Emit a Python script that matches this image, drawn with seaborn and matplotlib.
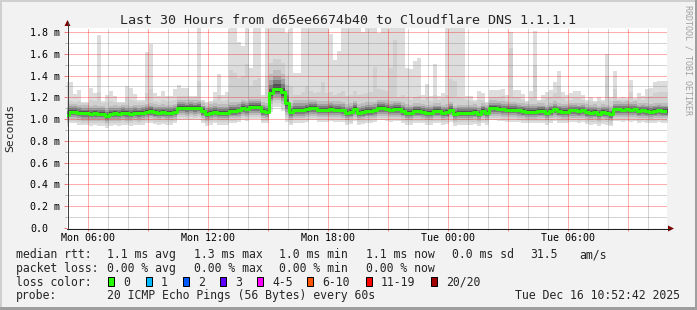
import numpy as np
import pandas as pd
import matplotlib
matplotlib.use("Agg")
import matplotlib.pyplot as plt
from matplotlib.patches import Rectangle, Polygon
from matplotlib.lines import Line2D
import seaborn as sns

# ---------------- data ----------------
TITLE = "Last 30 Hours from d65ee6674b40 to Cloudflare DNS 1.1.1.1"
first_bin_hour = 4 + 51 / 60      # Mon 04:51, first 12-minute consolidation bin
bin_hours = 0.2                   # 12 minutes
view_start_hour = 4 + 57 / 60     # Mon 04:57
view_end_hour = 34 + 57 / 60      # Tue 10:57
y_top_ms = 1.837

# median rtt per 12-minute bin (ms)
median_ms = [
    1.04, 1.07, 1.07, 1.06, 1.055, 1.055, 1.05, 1.055, 1.05, 1.05,
    1.03, 1.05, 1.055, 1.05, 1.06, 1.055, 1.05, 1.06, 1.055, 1.06,
    1.07, 1.075, 1.065, 1.06, 1.065, 1.06, 1.06, 1.07, 1.105, 1.105,
    1.10, 1.105, 1.10, 1.105, 1.075, 1.05, 1.06, 1.07, 1.06, 1.06,
    1.06, 1.075, 1.075, 1.08, 1.10, 1.09, 1.11, 1.11, 1.11, 1.075,
    1.07, 1.24, 1.28, 1.28, 1.245, 1.145, 1.065, 1.085, 1.085, 1.085,
    1.09, 1.10, 1.10, 1.085, 1.085, 1.085, 1.09, 1.085, 1.085, 1.08,
    1.06, 1.065, 1.09, 1.06, 1.065, 1.075, 1.075, 1.08, 1.10, 1.10,
    1.095, 1.085, 1.09, 1.09, 1.075, 1.06, 1.06, 1.075, 1.075, 1.07,
    1.06, 1.06, 1.075, 1.075, 1.06, 1.065, 1.085, 1.05, 1.06, 1.06,
    1.06, 1.06, 1.065, 1.05, 1.075, 1.06, 1.10, 1.10, 1.095, 1.09,
    1.085, 1.085, 1.085, 1.08, 1.075, 1.07, 1.07, 1.07, 1.075, 1.075,
    1.06, 1.075, 1.09, 1.075, 1.07, 1.07, 1.08, 1.08, 1.075, 1.08,
    1.065, 1.06, 1.065, 1.05, 1.065, 1.06, 1.047, 1.09, 1.09, 1.085,
    1.09, 1.085, 1.09, 1.075, 1.08, 1.075, 1.07, 1.075, 1.08, 1.075, 1.075,
]

# slowest ping per bin (ms) - top of the light smoke
max_ms = [
    1.34, 1.34, 1.23, 1.27, 1.16, 1.16, 1.29, 1.24, 1.77, 1.17,
    1.22, 1.26, 1.21, 1.16, 1.16, 1.30, 1.29, 1.23, 1.18, 1.18,
    1.62, 1.69, 1.24, 1.21, 1.26, 1.21, 1.21, 1.28, 1.31, 1.29,
    1.29, 1.21, 1.21, 1.85, 1.16, 1.16, 1.16, 1.25, 1.41, 1.22,
    1.25, 1.85, 1.85, 1.71, 1.67, 1.85, 1.47, 1.85, 1.85, 1.22,
    1.85, 1.85, 1.85, 1.85, 1.85, 1.79, 1.85, 1.42, 1.42, 1.85,
    1.85, 1.85, 1.85, 1.85, 1.85, 1.85, 1.78, 1.54, 1.63, 1.85,
    1.85, 1.85, 1.85, 1.85, 1.80, 1.85, 1.85, 1.85, 1.79, 1.85,
    1.85, 1.85, 1.85, 1.85, 1.85, 1.47, 1.46, 1.53, 1.56, 1.22,
    1.32, 1.21, 1.51, 1.21, 1.24, 1.85, 1.85, 1.85, 1.85, 1.85,
    1.21, 1.21, 1.18, 1.26, 1.24, 1.14, 1.27, 1.27, 1.27, 1.28,
    1.22, 1.80, 1.27, 1.27, 1.23, 1.16, 1.26, 1.81, 1.18, 1.22,
    1.25, 1.27, 1.34, 1.44, 1.25, 1.22, 1.24, 1.26, 1.26, 1.22,
    1.18, 1.20, 1.17, 1.20, 1.18, 1.60, 1.20, 1.44, 1.19, 1.20,
    1.17, 1.36, 1.18, 1.24, 1.21, 1.28, 1.29, 1.34, 1.35, 1.35, 1.35,
]

# second-slowest pings per bin (ms) - top of the medium smoke
upper_ms = [
    1.17, 1.17, 1.16, 1.17, 1.15, 1.15, 1.18, 1.17, 1.25, 1.15,
    1.16, 1.17, 1.16, 1.15, 1.15, 1.19, 1.18, 1.17, 1.16, 1.16,
    1.24, 1.28, 1.17, 1.16, 1.18, 1.17, 1.17, 1.18, 1.21, 1.21,
    1.21, 1.18, 1.18, 1.35, 1.16, 1.15, 1.15, 1.18, 1.22, 1.17,
    1.18, 1.45, 1.42, 1.38, 1.40, 1.51, 1.30, 1.36, 1.38, 1.19,
    1.40, 1.52, 1.55, 1.55, 1.52, 1.40, 1.30, 1.22, 1.22, 1.25,
    1.30, 1.26, 1.24, 1.25, 1.34, 1.24, 1.25, 1.22, 1.24, 1.26,
    1.21, 1.22, 1.26, 1.22, 1.23, 1.24, 1.25, 1.48, 1.28, 1.27,
    1.26, 1.47, 1.73, 1.20, 1.22, 1.19, 1.18, 1.20, 1.21, 1.18,
    1.20, 1.17, 1.22, 1.18, 1.19, 1.22, 1.37, 1.35, 1.20, 1.19,
    1.18, 1.17, 1.15, 1.18, 1.18, 1.14, 1.20, 1.20, 1.20, 1.21,
    1.18, 1.65, 1.20, 1.20, 1.18, 1.15, 1.19, 1.50, 1.16, 1.18,
    1.19, 1.20, 1.24, 1.30, 1.19, 1.17, 1.18, 1.19, 1.19, 1.18,
    1.16, 1.17, 1.16, 1.17, 1.16, 1.40, 1.17, 1.28, 1.17, 1.17,
    1.16, 1.25, 1.17, 1.19, 1.18, 1.20, 1.21, 1.24, 1.25, 1.25, 1.25,
]

# hourly spread of the dense smoke around the median (ms), hours 4..35
spread_first_hour = 4
spread_up_ms = [0.10, 0.10, 0.10, 0.10, 0.10, 0.10, 0.10, 0.10, 0.11, 0.11, 0.11, 0.24,
                0.12, 0.11, 0.11, 0.11, 0.11, 0.11, 0.10, 0.10, 0.10, 0.10, 0.10, 0.10,
                0.10, 0.10, 0.10, 0.10, 0.10, 0.10, 0.10, 0.10]
spread_dn_ms = [0.11, 0.11, 0.11, 0.11, 0.11, 0.11, 0.11, 0.11, 0.11, 0.11, 0.11, 0.17,
                0.12, 0.11, 0.11, 0.11, 0.11, 0.11, 0.11, 0.11, 0.11, 0.11, 0.11, 0.11,
                0.11, 0.11, 0.11, 0.11, 0.11, 0.11, 0.11, 0.11]

ytick_values = [0.0, 0.2, 0.4, 0.6, 0.8, 1.0, 1.2, 1.4, 1.6, 1.8]
ytick_labels = ["0.0", "0.2 m", "0.4 m", "0.6 m", "0.8 m", "1.0 m", "1.2 m", "1.4 m", "1.6 m", "1.8 m"]
xtick_hours = [6, 12, 18, 24, 30]
xtick_labels = ["Mon 06:00", "Mon 12:00", "Mon 18:00", "Tue 00:00", "Tue 06:00"]

loss_labels = ["0", "1", "2", "3", "4-5", "6-10", "11-19", "20/20"]
loss_colors = ["#26ff00", "#00b8ff", "#0059ff", "#5e00ff", "#ff00ff", "#ff5500", "#ff0000", "#a10000"]

rtt_row = ["median rtt:", "1.1 ms avg", "1.3 ms max", "1.0 ms min", "1.1 ms now", "0.0 ms sd", "31.5", "am/s"]
loss_row = ["packet loss:", "0.00 % avg", "0.00 % max", "0.00 % min", "0.00 % now"]
probe_row = ["probe:", "20 ICMP Echo Pings (56 Bytes) every 60s"]
stamp = "Tue Dec 16 10:52:42 2025"

# ---------------- drawing ----------------
sns.set_theme(style="white")
MONO = ["DejaVu Sans Mono"]
plt.rcParams["font.family"] = MONO
plt.rcParams["lines.scale_dashes"] = False

W, H = 697, 310
def fx(px):
    return px / W
def fy(py):
    return 1 - py / H

fig = plt.figure(figsize=(W / 100, H / 100), dpi=100, facecolor="#f2f2f2")
# 3D frame
fig.add_artist(Rectangle((0, fy(2)), 1, 2 / H, transform=fig.transFigure, color="#cfcfcf", lw=0))
fig.add_artist(Rectangle((0, 0), 2 / W, 1, transform=fig.transFigure, color="#cfcfcf", lw=0))
fig.add_artist(Rectangle((fx(695), 0), 2 / W, 1, transform=fig.transFigure, color="#9e9e9e", lw=0))
fig.add_artist(Rectangle((0, 0), 1, 3 / H, transform=fig.transFigure, color="#9e9e9e", lw=0))

ax = fig.add_axes([fx(67), fy(228), 600 / W, 200 / H])
ax.set_facecolor("white")

n = min(len(median_ms), len(max_ms), len(upper_ms))
med = np.array(median_ms[:n])
top = np.array(max_ms[:n])
upp = np.array(upper_ms[:n])
t_edges = first_bin_hour + bin_hours * np.arange(n + 1)
hidx = np.clip(np.floor(t_edges[:-1]).astype(int) - spread_first_hour, 0, len(spread_up_ms) - 1)
su = np.array(spread_up_ms)[hidx]
sd = np.array(spread_dn_ms)[hidx]

def ext(a):
    return np.append(a, a[-1])

# smoke layers, outer (light) to inner (dark)
ax.fill_between(t_edges, ext(med - sd), ext(np.maximum(top, med + su)), step="post",
                color="#dddddd", lw=0, zorder=1)
ax.fill_between(t_edges, ext(med - 0.8 * sd), ext(np.maximum(upp, med + 0.9 * su)), step="post",
                color="#d0d0d0", lw=0, zorder=1)
inner = [(0.62, 0.72, "#bcbcbc"), (0.45, 0.50, "#a0a0a0"), (0.30, 0.32, "#7c7c7c"), (0.17, 0.16, "#525252")]
for fdn, fup, col in inner:
    ax.fill_between(t_edges, ext(med - fdn * sd), ext(med + fup * su), step="post",
                    color=col, lw=0, zorder=1)

df = pd.DataFrame({"t": t_edges, "rtt": ext(med)})
sns.lineplot(data=df, x="t", y="rtt", ax=ax, color="#26ff00", lw=2.2, drawstyle="steps-post",
             estimator=None, sort=False, legend=False, zorder=3)
ax.set_xlabel("")
ax.set_ylabel("")

ax.set_xlim(view_start_hour, view_end_hour)
ax.set_ylim(0, y_top_ms)
major_x = np.arange(6, 35, 3)
minor_x = np.arange(5, 35, 1)
major_y = np.array(ytick_values)
minor_y = np.arange(0.1, 1.85, 0.2)
ax.set_xticks(major_x)
ax.set_xticks(minor_x, minor=True)
ax.set_yticks(major_y)
ax.set_yticks(minor_y, minor=True)
for s in ax.spines.values():
    s.set_visible(False)
red = (1.0, 0.0, 0.0, 0.32)
gray = (0.45, 0.45, 0.45, 0.3)
dot = (0, (0.72, 0.72))

# dotted grid drawn over the smoke, under the median line
for xv in minor_x:
    if xv % 3 != 0:
        ax.axvline(xv, color=gray, lw=0.72, linestyle=dot, antialiased=False, zorder=2)
for yv in minor_y:
    ax.axhline(yv, color=gray, lw=0.72, linestyle=dot, antialiased=False, zorder=2)
for xv in major_x:
    ax.axvline(xv, color=red, lw=0.72, linestyle=dot, antialiased=False, zorder=2)
for yv in major_y[1:]:
    ax.axhline(yv, color=red, lw=0.72, linestyle=dot, antialiased=False, zorder=2)

ax.tick_params(which="major", length=2.2, width=0.72, color=(1, 0, 0, 0.5), direction="out",
               labelbottom=False, labelleft=False, bottom=True, left=True)
ax.tick_params(which="minor", length=1.5, width=0.72, color=(0.45, 0.45, 0.45, 0.5), direction="out",
               bottom=True, left=True)

for v, lab in zip(ytick_values, ytick_labels):
    ax.text(-37 / 600, v, lab, transform=ax.get_yaxis_transform(), ha="left",
            va="center_baseline", fontsize=7.2, family=MONO, color="black")
for h, lab in zip(xtick_hours, xtick_labels):
    ax.text(h, -13 / 200, lab, transform=ax.get_xaxis_transform(), ha="center",
            va="baseline", fontsize=7.2, family=MONO, color="black")

# axes with arrows
fig.add_artist(Line2D([fx(67.5), fx(67.5)], [fy(228), fy(22)], color="#404040", lw=0.72))
fig.add_artist(Line2D([fx(67), fx(670)], [fy(228.5), fy(228.5)], color="#202020", lw=0.72))
fig.add_artist(Polygon([(fx(64.5), fy(26)), (fx(70.5), fy(26)), (fx(67.5), fy(20))],
                       closed=True, transform=fig.transFigure, color="#7f0000", lw=0))
fig.add_artist(Polygon([(fx(668), fy(225.5)), (fx(668), fy(231.5)), (fx(674), fy(228.5))],
                       closed=True, transform=fig.transFigure, color="#7f0000", lw=0))

# texts
fig.text(fx(348.5), fy(24), TITLE, ha="center", va="baseline", fontsize=9.6, family=MONO)
fig.text(fx(10), fy(128), "Seconds", rotation=90, ha="center", va="center", fontsize=8.2, family=MONO)
fig.text(fx(688), fy(5), "RRDTOOL / TOBI OETIKER", rotation=270, ha="center", va="top",
         fontsize=6.0, family=MONO, color="#a0a0a0")

FS = 8.3
rtt_x = [16, 107, 194, 279, 366, 452, 530, 579]
for s, x in zip(rtt_row, rtt_x):
    fig.text(fx(x), fy(258.3), s, ha="left", va="baseline", fontsize=FS, family=MONO)
loss_x = [16, 107, 194, 279, 366]
for s, x in zip(loss_row, loss_x):
    fig.text(fx(x), fy(271.7), s, ha="left", va="baseline", fontsize=FS, family=MONO)
fig.text(fx(16), fy(285.7), "loss color:", ha="left", va="baseline", fontsize=FS, family=MONO)
box_x = [108, 146, 183, 220, 257, 307, 366, 431]
for lab, col, bx in zip(loss_labels, loss_colors, box_x):
    fig.add_artist(Rectangle((fx(bx), fy(286)), 6 / W, 9 / H, transform=fig.transFigure,
                             facecolor=col, edgecolor="black", lw=0.72))
    fig.text(fx(bx + 15), fy(285.7), lab, ha="left", va="baseline", fontsize=FS, family=MONO)
fig.text(fx(16), fy(299), probe_row[0], ha="left", va="baseline", fontsize=FS, family=MONO)
fig.text(fx(107), fy(299), probe_row[1], ha="left", va="baseline", fontsize=FS, family=MONO)
fig.text(fx(680), fy(299), stamp, ha="right", va="baseline", fontsize=FS, family=MONO)

fig.savefig("out.png", dpi=100, facecolor=fig.get_facecolor())
